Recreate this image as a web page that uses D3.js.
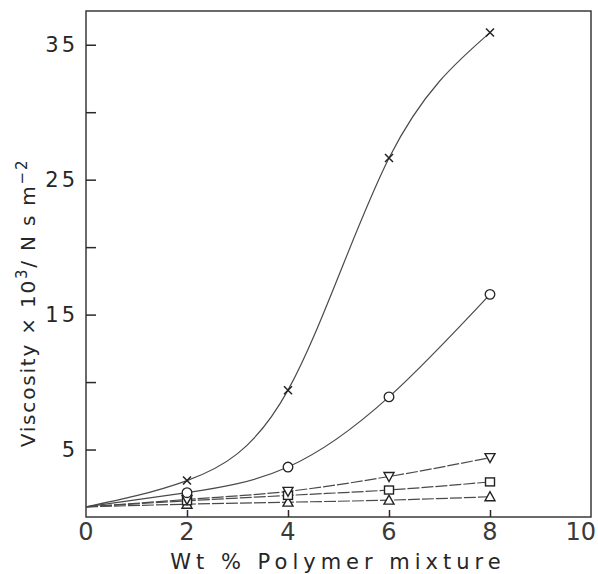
<!DOCTYPE html>
<html>
<head>
<meta charset="utf-8">
<script src="https://cdn.jsdelivr.net/npm/d3@7"></script>
<style>
	body { margin: 0; background: #fff; }
	text { font-family: "DejaVu Sans", sans-serif; fill: #262626; }
</style>
</head>
<body>
<svg id="chart" width="598" height="574"></svg>
<script>
// wt % polymer mixture
var wt = [0, 2, 4, 6, 8];
// viscosity x 10^3 / N s m^-2, one array per marker
var crossVals = [0.75, 2.7, 9.4, 26.6, 35.9];
var circleVals = [0.75, 1.8, 3.7, 8.9, 16.5];
var triDownVals = [0.75, 1.3, 1.9, 3.0, 4.4];
var squareVals = [0.75, 1.2, 1.6, 2.0, 2.6];
var triUpVals = [0.75, 0.95, 1.1, 1.25, 1.5];

var xTicks = [0, 2, 4, 6, 8, 10];
var yTicks = [5, 10, 15, 20, 25, 30, 35];
var yLabels = ["5", "", "15", "", "25", "", "35"];

var series = [
	{ name: "cross", values: crossVals, symbol: "cross", smooth: true },
	{ name: "circle", values: circleVals, symbol: "circle", smooth: true },
	{ name: "tridown", values: triDownVals, symbol: "tridown", smooth: false },
	{ name: "square", values: squareVals, symbol: "square", smooth: false },
	{ name: "triup", values: triUpVals, symbol: "triup", smooth: false }
];

var svg = d3.select("#chart");
var plotL = 86, plotR = 591, plotT = 11, plotB = 517;

var x = d3.scaleLinear().domain([0, 10]).range([plotL, plotR]);
var y = d3.scaleLinear().domain([0, 37.5]).range([plotB, plotT]);

// frame
svg.append("rect")
	.attr("x", plotL)
	.attr("y", plotT)
	.attr("width", plotR - plotL)
	.attr("height", plotB - plotT)
	.attr("fill", "none")
	.attr("stroke", "#3a3a3a")
	.attr("stroke-width", 1.5);

// y axis, ticks pointing inward
var yAxis = d3.axisRight(y)
	.tickValues(yTicks)
	.tickSize(10)
	.tickFormat("");
svg.append("g")
	.attr("transform", "translate(" + plotL + ",0)")
	.call(yAxis)
	.call(function (g) {
		g.select(".domain").remove();
		g.selectAll("line").attr("stroke", "#2a2a2a").attr("stroke-width", 1.5);
	});

svg.append("g").selectAll("text")
	.data(yTicks)
	.join("text")
	.attr("x", 78)
	.attr("y", function (d) { return y(d) + 7; })
	.attr("text-anchor", "end")
	.attr("font-size", 21)
	.attr("letter-spacing", 3)
	.text(function (d, i) { return yLabels[i]; });

// x axis, ticks pointing upward
var xAxis = d3.axisTop(x)
	.tickValues([2, 4, 6, 8])
	.tickSize(7)
	.tickFormat("");
svg.append("g")
	.attr("transform", "translate(0," + plotB + ")")
	.call(xAxis)
	.call(function (g) {
		g.select(".domain").remove();
		g.selectAll("line").attr("stroke", "#2a2a2a").attr("stroke-width", 1.5);
	});

svg.append("g").selectAll("text")
	.data(xTicks)
	.join("text")
	.attr("x", function (d) { return d === 10 ? 596 : x(d); })
	.attr("y", 540)
	.attr("text-anchor", function (d) { return d === 10 ? "end" : "middle"; })
	.attr("font-size", 24)
	.style("fill", "#3a3a3a")
	.text(function (d) { return d; });

// axis titles
svg.append("text")
	.attr("x", 338)
	.attr("y", 569)
	.attr("text-anchor", "middle")
	.attr("font-size", 21)
	.attr("letter-spacing", 5)
	.text("Wt % Polymer mixture");

var yt = svg.append("text")
	.attr("transform", "translate(35,303) rotate(-90)")
	.attr("text-anchor", "middle")
	.attr("font-size", 20)
	.attr("letter-spacing", 1.8);
yt.append("tspan").text("Viscosity \u00d7 10");
yt.append("tspan").attr("dy", -8).attr("font-size", 15).text("3");
yt.append("tspan").attr("dy", 8).text("/ N s m");
yt.append("tspan").attr("dy", -8).attr("font-size", 15).text("\u22122");

// lines
var smoothLine = d3.line()
	.x(function (d, i) { return x(wt[i]); })
	.y(function (d) { return y(d); })
	.curve(d3.curveNatural);
var straightLine = d3.line()
	.x(function (d, i) { return x(wt[i]); })
	.y(function (d) { return y(d); })
	.curve(d3.curveMonotoneX);

series.forEach(function (s) {
	svg.append("path")
		.datum(s.values)
		.attr("d", s.smooth ? smoothLine : straightLine)
		.attr("fill", "none")
		.attr("stroke", "#4a4a4a")
		.attr("stroke-width", 1.2)
		.attr("stroke-dasharray", s.smooth ? null : "12,2");
});

// markers (skip the origin point)
function drawMarker(g, kind, cx, cy) {
	if (kind === "cross") {
		g.append("path")
			.attr("d", "M" + (cx - 4) + "," + (cy - 4) + "L" + (cx + 4) + "," + (cy + 4) +
				"M" + (cx - 4) + "," + (cy + 4) + "L" + (cx + 4) + "," + (cy - 4))
			.attr("stroke", "#222").attr("stroke-width", 1.5);
	} else if (kind === "circle") {
		g.append("circle").attr("cx", cx).attr("cy", cy).attr("r", 4.8)
			.attr("fill", "#fff").attr("stroke", "#222").attr("stroke-width", 1.3);
	} else if (kind === "square") {
		g.append("rect").attr("x", cx - 4.5).attr("y", cy - 4).attr("width", 9).attr("height", 8)
			.attr("fill", "#fff").attr("stroke", "#222").attr("stroke-width", 1.4);
	} else if (kind === "tridown") {
		g.append("path")
			.attr("d", "M" + (cx - 5) + "," + (cy - 4) + "L" + (cx + 5) + "," + (cy - 4) + "L" + cx + "," + (cy + 5) + "Z")
			.attr("fill", "#fff").attr("stroke", "#222").attr("stroke-width", 1.4);
	} else if (kind === "triup") {
		g.append("path")
			.attr("d", "M" + (cx - 5) + "," + (cy + 4) + "L" + (cx + 5) + "," + (cy + 4) + "L" + cx + "," + (cy - 5) + "Z")
			.attr("fill", "#fff").attr("stroke", "#222").attr("stroke-width", 1.4);
	}
}

// draw lower series first so upper markers sit on top
series.slice().reverse().forEach(function (s) {
	var g = svg.append("g").attr("class", "pts-" + s.name);
	s.values.forEach(function (v, i) {
		if (i === 0) return;
		drawMarker(g, s.symbol, x(wt[i]), y(v));
	});
});
</script>
</body>
</html>
